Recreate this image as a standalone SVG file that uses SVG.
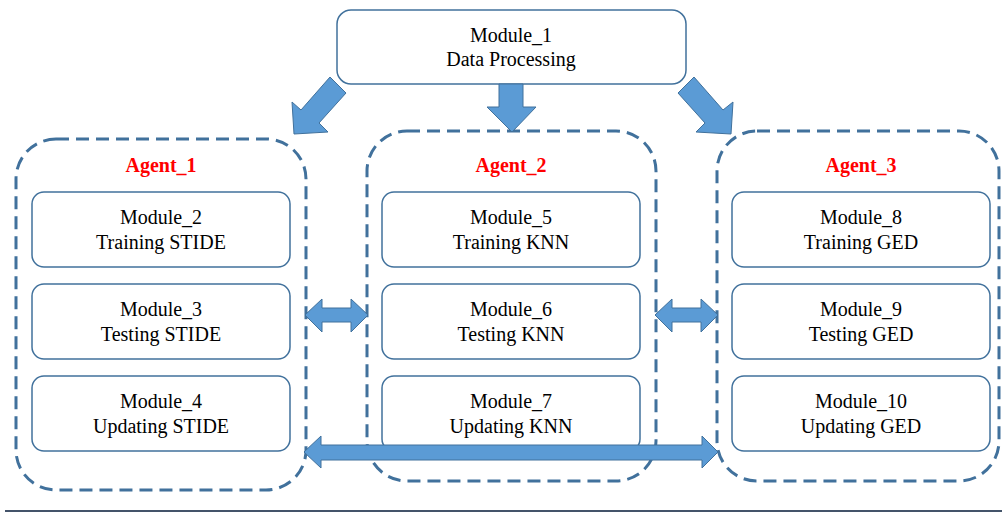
<svg xmlns="http://www.w3.org/2000/svg" width="1002" height="514" viewBox="0 0 1002 514">
  <style>
    .agent { fill: none; stroke: #41719C; stroke-width: 3; stroke-dasharray: 13 7; }
    .box { fill: #FFFFFF; stroke: #41719C; stroke-width: 1.5; }
    .arrow { fill: #5B9BD5; stroke: #41719C; stroke-width: 1; stroke-linejoin: miter; }
    .label { font-family: "Liberation Serif", "Times New Roman", serif; font-size: 20px; fill: #000000; text-anchor: middle; }
    .title { font-family: "Liberation Serif", "Times New Roman", serif; font-size: 20px; font-weight: bold; fill: #FF0000; text-anchor: middle; }
  </style>
  <rect width="1002" height="514" fill="#FFFFFF"/>

  <!-- top module -->
  <g id="module_1">
    <rect class="box" x="337" y="10" width="349" height="74" rx="14"/>
    <text class="label" x="511" y="42">Module_1</text>
    <text class="label" x="511" y="66">Data Processing</text>
  </g>

  <!-- agent containers -->
  <g id="agent_1">
    <rect class="agent" x="16" y="139" width="290" height="351" rx="40"/>
    <text class="title" x="161" y="172">Agent_1</text>
  </g>
  <g id="agent_2">
    <rect class="agent" x="367" y="131" width="289" height="350" rx="40"/>
    <text class="title" x="511" y="172">Agent_2</text>
  </g>
  <g id="agent_3">
    <rect class="agent" x="717" y="131" width="282" height="350" rx="40"/>
    <text class="title" x="861" y="172">Agent_3</text>
  </g>

  <!-- Agent_1 modules -->
  <g id="module_2">
    <rect class="box" x="32" y="192" width="258" height="75" rx="12"/>
    <text class="label" x="161" y="224">Module_2</text>
    <text class="label" x="161" y="249">Training STIDE</text>
  </g>
  <g id="module_3">
    <rect class="box" x="32" y="284" width="258" height="75" rx="12"/>
    <text class="label" x="161" y="316">Module_3</text>
    <text class="label" x="161" y="341">Testing STIDE</text>
  </g>
  <g id="module_4">
    <rect class="box" x="32" y="376" width="258" height="75" rx="12"/>
    <text class="label" x="161" y="408">Module_4</text>
    <text class="label" x="161" y="433">Updating STIDE</text>
  </g>

  <!-- Agent_2 modules -->
  <g id="module_5">
    <rect class="box" x="382" y="192" width="258" height="75" rx="12"/>
    <text class="label" x="511" y="224">Module_5</text>
    <text class="label" x="511" y="249">Training KNN</text>
  </g>
  <g id="module_6">
    <rect class="box" x="382" y="284" width="258" height="75" rx="12"/>
    <text class="label" x="511" y="316">Module_6</text>
    <text class="label" x="511" y="341">Testing KNN</text>
  </g>
  <g id="module_7">
    <rect class="box" x="382" y="376" width="258" height="75" rx="12"/>
    <text class="label" x="511" y="408">Module_7</text>
    <text class="label" x="511" y="433">Updating KNN</text>
  </g>

  <!-- Agent_3 modules -->
  <g id="module_8">
    <rect class="box" x="732" y="192" width="258" height="75" rx="12"/>
    <text class="label" x="861" y="224">Module_8</text>
    <text class="label" x="861" y="249">Training GED</text>
  </g>
  <g id="module_9">
    <rect class="box" x="732" y="284" width="258" height="75" rx="12"/>
    <text class="label" x="861" y="316">Module_9</text>
    <text class="label" x="861" y="341">Testing GED</text>
  </g>
  <g id="module_10">
    <rect class="box" x="732" y="376" width="258" height="75" rx="12"/>
    <text class="label" x="861" y="408">Module_10</text>
    <text class="label" x="861" y="433">Updating GED</text>
  </g>

  <!-- block arrows -->
  <g id="connectors">
    <polygon class="arrow" points="330,77 346,93 319,123 328,132 294,134 292,102 301,110"/>
    <polygon class="arrow" points="499,84 523,84 523,107 536,107 512,132 487,107 499,107"/>
    <polygon class="arrow" points="694,77 678,93 705,123 696,132 731,134 733,102 723,110"/>
    <polygon class="arrow" points="305,315 322,299 322,308 351,308 351,299 368,315 351,332 351,322 322,322 322,332"/>
    <polygon class="arrow" points="655,315 672,299 672,308 701,308 701,299 718,315 701,332 701,322 672,322 672,332"/>
    <polygon class="arrow" points="304,452 321,436 321,445 702,445 702,436 718,452 702,468 702,460 321,460 321,468"/>
  </g>

  <!-- rule under the figure -->
  <line x1="5" y1="511" x2="1002" y2="511" stroke="#44546A" stroke-width="2"/>
</svg>
